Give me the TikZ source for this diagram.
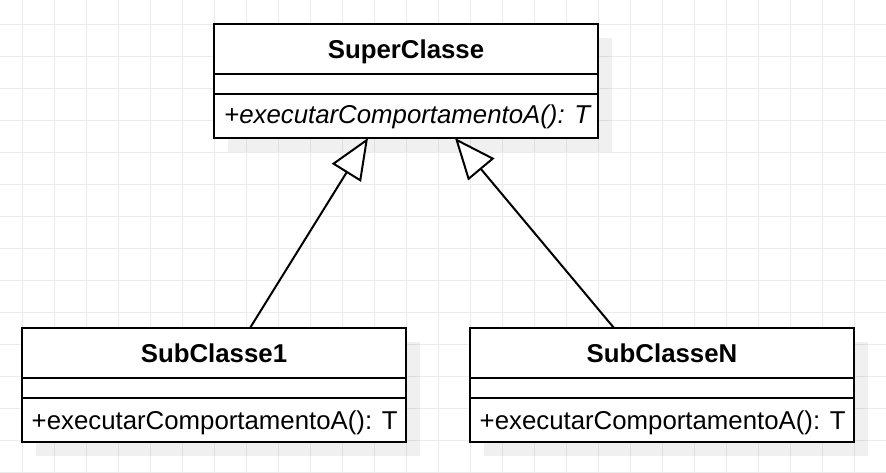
\documentclass[tikz,border=0pt]{standalone}
\usepackage{fontspec}
\setmainfont{Liberation Sans}
\usetikzlibrary{arrows.meta,calc}
\definecolor{gridgray}{HTML}{EBEBEB}
\begin{document}
\begin{tikzpicture}[x=1pt,y=-1pt,
  classbox/.style={draw=black, line width=2pt, fill=white, minimum width=384pt, minimum height=114pt, inner sep=0pt, outer sep=0pt, anchor=north west},
  shadowbox/.style={fill=black, fill opacity=0.06, minimum width=384pt, minimum height=114pt, inner sep=0pt, outer sep=0pt, anchor=north west},
  classtitle/.style={font=\fontsize{25.8}{30}\selectfont\bfseries, inner sep=0pt, anchor=base},
  method/.style={font=\fontsize{25.8}{30}\selectfont, inner sep=0pt, anchor=base west},
  divider/.style={line width=2pt},
  gridline/.style={draw=gridgray, line width=1pt},
  inherit/.style={line width=2pt, -{Triangle[fill=white, length=41pt, width=34pt, line width=2pt]}}
]
\fill[white] (0,0) rectangle (886,472);
\useasboundingbox (0,0) rectangle (886,472);
\foreach \x in {22,54,...,886} \draw[gridline] (\x,0) -- (\x,472);
\foreach \y in {24,56,...,472} \draw[gridline] (0,\y) -- (886,\y);

% shadows
\node[shadowbox] (shsuper) at (228,38) {};
\node[shadowbox] (shsub1) at (36,342) {};
\node[shadowbox] (shsubN) at (484,342) {};

% boxes
\node[classbox] (super) at (214,24) {};
\node[classbox] (sub1) at (22,328) {};
\node[classbox] (subN) at (470,328) {};

\foreach \b in {super,sub1,subN}{
  \draw[divider] ($(\b.north west)+(0,50)$) -- ($(\b.north east)+(0,50)$);
  \draw[divider] ($(\b.north west)+(0,70)$) -- ($(\b.north east)+(0,70)$);
}

% texts
\node[classtitle] (tsuper) at (406,58.5) {SuperClasse};
\node[classtitle] (tsub1) at (214,362.5) {SubClasse1};
\node[classtitle] (tsubN) at (662,362.5) {SubClasseN};

\node[method, font=\fontsize{25.8}{30}\selectfont\itshape] (msuper) at (224,123.5) {+executarComportamentoA(): T};
\node[method] (msub1) at (31.5,429) {+executarComportamentoA(): T};
\node[method] (msubN) at (479.5,429) {+executarComportamentoA(): T};

% inheritance
\draw[inherit] ($(sub1.north)+(36,0)$) -- ($(super.south)+(-38,0)$);
\draw[inherit] ($(subN.north)+(-48,0)$) -- ($(super.south)+(49,0)$);
\end{tikzpicture}
\end{document}
